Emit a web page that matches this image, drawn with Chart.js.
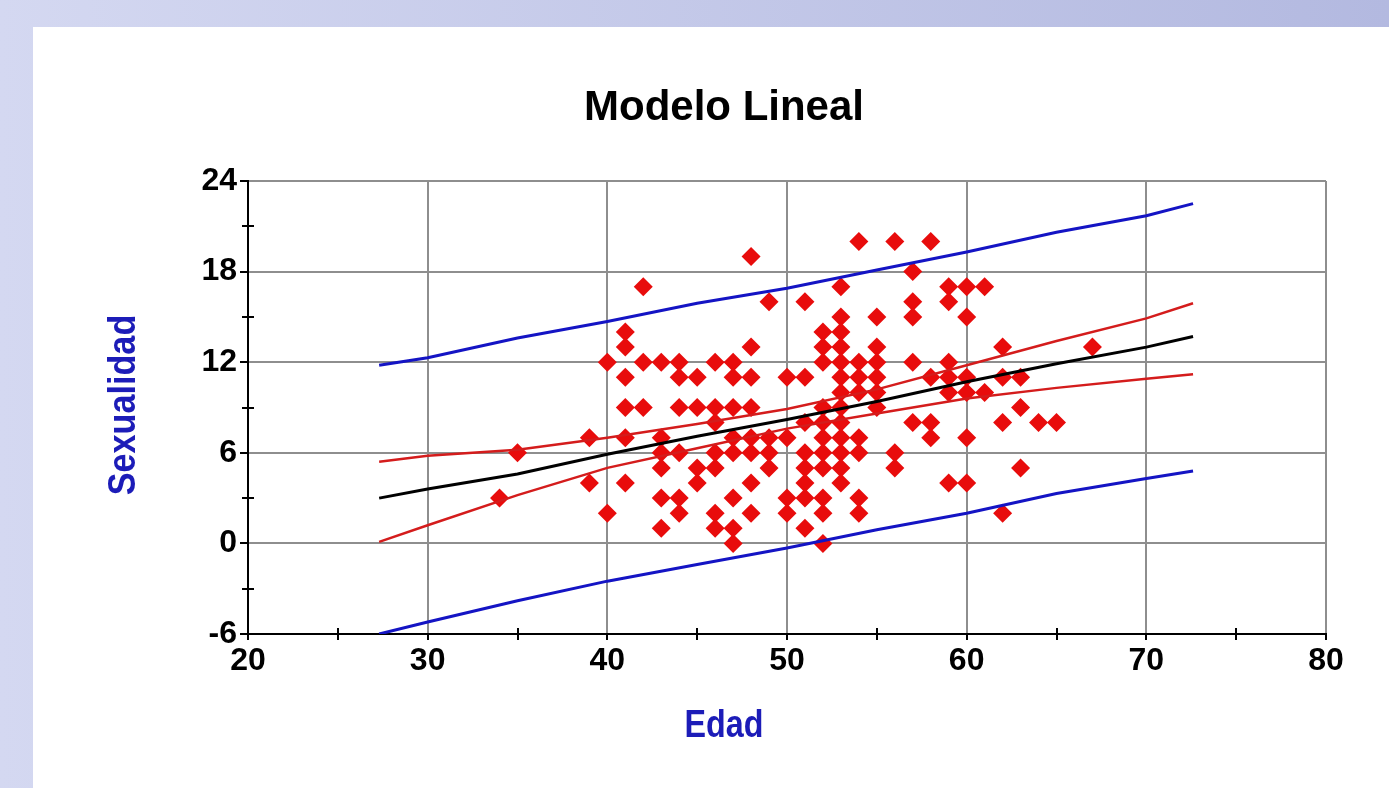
<!DOCTYPE html>
<html><head><meta charset="utf-8">
<script src="https://cdn.jsdelivr.net/npm/chart.js@4.4.1/dist/chart.umd.min.js"></script>
<style>
html,body{margin:0;padding:0;width:1389px;height:788px;overflow:hidden;}
body{background:linear-gradient(to right,#d4d8f1,#b3b9e0);position:relative;}
#panel{position:absolute;left:33px;top:27px;right:0;bottom:0;background:#fff;}
canvas{position:absolute;left:0;top:0;}
</style></head><body>
<div id="panel"></div>
<canvas id="c" width="1389" height="788"></canvas>
<script>
// ---- data ----
const chartTitle = 'Modelo Lineal';
const xTitle = 'Edad';
const yTitle = 'Sexualidad';
const ageValues = [
 34, 35, 39,39, 40,40,
 41,41,41,41,41,41, 42,42,42,
 43,43,43,43,43,43, 44,44,44,44,44,44, 45,45,45,45,
 46,46,46,46,46,46,46, 47,47,47,47,47,47,47,47,
 48,48,48,48,48,48,48,48, 49,49,49,49, 50,50,50,50,
 51,51,51,51,51,51,51,51, 52,52,52,52,52,52,52,52,52,52,52,
 53,53,53,53,53,53,53,53,53,53,53,53,53, 54,54,54,54,54,54,54,54,
 55,55,55,55,55,55, 56,56,56, 57,57,57,57,57, 58,58,58,58,
 59,59,59,59,59,59, 60,60,60,60,60,60, 61,61, 62,62,62,62, 63,63,63, 64, 65, 67
];
const sexValues = [
 3, 6, 7,4, 12,2,
 14,13,11,9,7,4, 17,12,9,
 12,7,6,5,3,1, 12,11,9,6,3,2, 11,9,5,4,
 12,9,8,6,5,2,1, 12,11,9,7,6,3,1,0,
 19,13,11,9,7,6,4,2, 16,7,6,5, 11,7,3,2,
 16,11,8,6,5,4,3,1, 14,13,12,9,8,7,6,5,3,2,0,
 17,15,14,13,12,11,10,9,8,7,6,5,4, 20,12,11,10,7,6,3,2,
 15,13,12,11,10,9, 20,6,5, 18,16,15,12,8, 20,11,8,7,
 17,16,12,11,10,4, 17,15,11,10,7,4, 17,10, 13,11,8,2, 11,9,5, 8, 8, 13
];
const lineX   = [27.3, 30, 35, 40, 45, 50, 55, 60, 65, 70, 72.6];
const fitY    = [3.0, 3.6, 4.6, 5.9, 7.1, 8.2, 9.4, 10.7, 11.9, 13.0, 13.7];
const ciUpper = [5.4, 5.8, 6.2, 7.0, 7.9, 8.9, 10.2, 11.8, 13.4, 14.9, 15.9];
const ciLower = [0.1, 1.2, 3.2, 5.0, 6.3, 7.6, 8.6, 9.6, 10.3, 10.9, 11.2];
const piUpper = [11.8, 12.3, 13.6, 14.7, 15.9, 16.9, 18.1, 19.3, 20.6, 21.7, 22.5];
const piLower = [-6.0, -5.2, -3.8, -2.5, -1.4, -0.3, 0.9, 2.0, 3.3, 4.3, 4.8];
const xTicks = [20, 30, 40, 50, 60, 70, 80];
const yTicks = [-6, 0, 6, 12, 18, 24];
const xMinorTicks = [25, 35, 45, 55, 65, 75];
const yMinorTicks = [-3, 3, 9, 15, 21];

// ---- build ----
const pts = ageValues.map((a, i) => ({x: a, y: sexValues[i]}));
const line = ys => lineX.map((x, i) => ({x: x, y: ys[i]}));
const tickFont = {family: "'Liberation Sans', Arial, sans-serif", size: 32, weight: 'bold'};

const extras = {
  id: 'extras',
  afterDraw(chart) {
    const ctx = chart.ctx, xs = chart.scales.x, ys = chart.scales.y;
    ctx.save();
    ctx.strokeStyle = '#000'; ctx.lineWidth = 2;
    const x0 = xs.getPixelForValue(20), y0 = ys.getPixelForValue(-6);
    xMinorTicks.forEach(v => { const p = Math.round(xs.getPixelForValue(v));
      ctx.beginPath(); ctx.moveTo(p, y0 - 6); ctx.lineTo(p, y0 + 6); ctx.stroke(); });
    yMinorTicks.forEach(v => { const p = Math.round(ys.getPixelForValue(v));
      ctx.beginPath(); ctx.moveTo(x0 - 6, p); ctx.lineTo(x0 + 6, p); ctx.stroke(); });
    ctx.textAlign = 'center'; ctx.textBaseline = 'middle';
    ctx.fillStyle = '#000';
    ctx.font = "bold 42px 'Liberation Sans', Arial, sans-serif";
    ctx.fillText(chartTitle, 724, 108);
    ctx.fillStyle = '#1c1cb8';
    ctx.font = "bold 38px 'Liberation Sans', Arial, sans-serif";
    ctx.save();
    ctx.translate(724, 727); ctx.scale(0.85, 1);
    ctx.fillText(xTitle, 0, 0);
    ctx.restore();
    ctx.translate(125, 405); ctx.rotate(-Math.PI / 2); ctx.scale(0.9, 1);
    ctx.fillText(yTitle, 0, 0);
    ctx.restore();
  }
};

new Chart(document.getElementById('c'), {
  type: 'scatter',
  data: {
    datasets: [
      {data: line(fitY), showLine: true, borderColor: '#000', borderWidth: 3, pointRadius: 0, order: 0},
      {data: line(ciUpper), showLine: true, borderColor: '#d41c1c', borderWidth: 2.5, pointRadius: 0, order: 0},
      {data: line(ciLower), showLine: true, borderColor: '#d41c1c', borderWidth: 2.5, pointRadius: 0, order: 0},
      {data: line(piUpper), showLine: true, borderColor: '#1414c4', borderWidth: 3, pointRadius: 0, order: 0},
      {data: line(piLower), showLine: true, borderColor: '#1414c4', borderWidth: 3, pointRadius: 0, order: 0},
      {data: pts, pointStyle: 'rectRot', pointRadius: 9.5, backgroundColor: '#e80c0c', borderColor: '#e80c0c', borderWidth: 0, order: 1}
    ]
  },
  options: {
    responsive: false, animation: false,
    layout: {padding: {top: 181, right: 63, left: 0, bottom: 0}},
    plugins: {legend: {display: false}, tooltip: {enabled: false}, title: {display: false}},
    scales: {
      x: {
        type: 'linear', min: 20, max: 80,
        afterBuildTicks: s => { s.ticks = xTicks.map(v => ({value: v})); },
        afterFit: s => { s.height = 154; },
        grid: {color: '#8e8e8e', lineWidth: 2, tickColor: '#000', tickLength: 6, tickWidth: 2},
        border: {color: '#000', width: 2},
        ticks: {color: '#000', font: tickFont, padding: 2, maxRotation: 0}
      },
      y: {
        type: 'linear', min: -6, max: 24,
        afterBuildTicks: s => { s.ticks = yTicks.map(v => ({value: v})); },
        afterFit: s => { s.width = 248; },
        grid: {color: '#8e8e8e', lineWidth: 2, tickColor: '#000', tickLength: 8, tickWidth: 2},
        border: {color: '#000', width: 2},
        ticks: {color: '#000', font: tickFont, padding: 3}
      }
    }
  },
  plugins: [extras]
});
</script>
</body></html>
